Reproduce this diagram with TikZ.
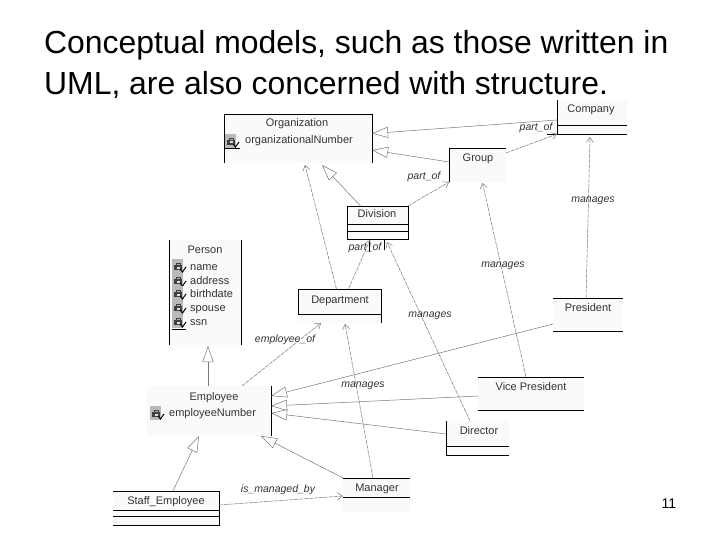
\documentclass[tikz,border=0pt]{standalone}
\usepackage{fontspec}
\setmainfont{Liberation Sans}
\usetikzlibrary{arrows.meta}

\definecolor{paleback}{HTML}{FAFAFA}
\definecolor{linegray}{HTML}{777777}
\definecolor{textgray}{HTML}{333333}

\tikzset{
  clsbox/.style={rectangle,fill=paleback,draw=none,inner sep=0pt,outer sep=0pt},
  clsline/.style={black,line width=0.7pt},
  clsname/.style={inner sep=0pt,text=textgray,text height=9pt,text depth=1pt,font=\fontsize{11}{13}\selectfont},
  attrname/.style={anchor=west,inner sep=0pt,text=textgray,text height=9pt,text depth=1pt,font=\fontsize{11}{13}\selectfont},
  asslabel/.style={inner sep=0pt,text=textgray,text height=9pt,text depth=1pt,font=\fontsize{10.5}{12}\selectfont\itshape},
  titleline/.style={anchor=base west,inner sep=0pt,font=\fontsize{31.9}{36}\selectfont},
  gen/.style={linegray,line width=0.5pt,-{Triangle[open,fill=white,length=16pt,width=11pt]}},
  assoc/.style={linegray,line width=0.5pt,dash pattern=on 4pt off 1pt,-{Straight Barb[length=5pt,width=7pt]}},
  keyicon/.pic={
    \fill[gray!55] (-7,-7) rectangle (4,7);
    \fill[black!75] (-5,-1) rectangle (3,4);
    \draw[black!75,line width=0.9pt] (-3,-1) -- (-3,-3) -- (1,-3) -- (1,-1);
    \fill[gray!25] (-2,0.5) rectangle (1,2.5);
    \draw[black,line width=1pt] (1,3) -- (3.5,6) -- (7,1);
  }
}

\begin{document}
\begin{tikzpicture}[x=1pt,y=-1pt]
\useasboundingbox (0,0) rectangle (720,540);
\fill[white] (0,0) rectangle (720,540);
% title
\node[titleline] (title1) at (44,54) {Conceptual models, such as those written in};
\node[titleline] (title2) at (44,95) {UML, are also concerned with structure.};
\node[inner sep=0pt,font=\fontsize{14}{16}\selectfont] (pageno) at (669,504) {11};
% classes
\node[clsbox,minimum width=148pt,minimum height=49pt] (org) at (298,138.5) {};
\node[clsbox,minimum width=70pt,minimum height=34pt] (company) at (592,117) {};
\node[clsbox,minimum width=57pt,minimum height=34pt] (group) at (477.5,165) {};
\node[clsbox,minimum width=61pt,minimum height=33pt] (div) at (377.5,222.5) {};
\node[clsbox,minimum width=72pt,minimum height=105pt] (person) at (205,292.5) {};
\node[clsbox,minimum width=83pt,minimum height=34pt] (dept) at (339.5,306) {};
\node[clsbox,minimum width=70pt,minimum height=33pt] (pres) at (588,314.5) {};
\node[clsbox,minimum width=106pt,minimum height=33pt] (vp) at (531,393.5) {};
\node[clsbox,minimum width=63pt,minimum height=34pt] (dir) at (477.5,438) {};
\node[clsbox,minimum width=124pt,minimum height=50pt] (emp) at (209,411) {};
\node[clsbox,minimum width=106pt,minimum height=34pt] (staff) at (166,508) {};
\node[clsbox,minimum width=67pt,minimum height=34pt] (mgr) at (376.5,495) {};
% class names
\node[clsname] (orgname) at (297,123) {Organization};
\node[clsname] (companyname) at (591,109) {Company};
\node[clsname] (groupname) at (478,158) {Group};
\node[clsname] (divname) at (377,214) {Division};
\node[clsname] (personname) at (205,249) {Person};
\node[clsname] (deptname) at (340,299) {Department};
\node[clsname] (presname) at (588,307) {President};
\node[clsname] (vpname) at (531,386) {Vice President};
\node[clsname] (dirname) at (479,430) {Director};
\node[clsname] (empname) at (214,396) {Employee};
\node[clsname] (staffname) at (166,500) {Staff\_Employee};
\node[clsname] (mgrname) at (377,487) {Manager};
% attributes
\node[attrname] (orgnumber) at (245,140) {organizationalNumber};
\node[attrname] (empnumber) at (169,412) {employeeNumber};
\foreach \yy/\attr in {266/name,280/address,293/birthdate,307/spouse,321/ssn}{
  \node[attrname] (attr\attr) at (190,\yy) {\attr};
  \pic at (179,\yy) {keyicon};
}
\pic at (232,141) {keyicon};
\pic at (157,413) {keyicon};
% box edges
\draw[clsline] (org.south west) -- (org.north west) -- (org.north east) -- (org.south east);
\draw[clsline] (224,148) -- (240,148);
\draw[clsline] (company.north west) -- (company.south west);
\draw[clsline] (557,125) -- (company.east |- 0,125);
\draw[clsline] (547,134) -- (company.south east);
\draw[clsline] (group.south west) -- (group.north west) -- (group.north east);
\draw[clsline] (div.north west) rectangle (div.south east);
\draw[clsline] (347,224) -- (408,224);
\draw[clsline] (347,231) -- (408,231);
\draw[clsline] (369,239) -- (369,252);
\draw[clsline] (384,239) -- (384,250);
\draw[clsline] (person.north west) -- (person.south west);
\draw[clsline] (person.north east) -- (person.south east);
\draw[clsline] (172,329) -- (186,329);
\draw[clsline] (dept.north east |- dept.south east) -- (dept.north east) -- (dept.north west) -- (298,314) -- (381,314);
\draw[clsline] (pres.north west) -- (pres.north east);
\draw[clsline] (pres.south west) -- (pres.south east);
\draw[clsline] (vp.north west) -- (vp.north east);
\draw[clsline] (vp.south west) -- (vp.south east);
\draw[clsline] (dir.north west) -- (dir.south west) -- (dir.south east);
\draw[clsline] (446,446) -- (509,446);
\draw[clsline] (emp.north east) -- (emp.south east);
\draw[clsline] (staff.north west) -- (staff.north east) -- (staff.south east) -- (staff.south west);
\draw[clsline] (113,510) -- (219,510);
\draw[clsline] (113,516) -- (219,516);
\draw[clsline] (mgr.north west) -- (mgr.north east);
\draw[clsline] (343,497) -- (410,497);
% generalizations
\draw[gen] ([yshift=-3pt]company.west) -- ([yshift=5pt]org.east);
\draw[gen] ([yshift=3pt]group.west) -- ([yshift=-11.5pt]org.east);
\draw[gen] ([xshift=-17pt]div.north) -- ([xshift=24pt,yshift=-2pt]org.south);
\draw[gen] ([xshift=-1pt]emp.north) -- ([xshift=3pt,yshift=-1pt]person.south);
\draw[gen] ([yshift=-9.5pt]pres.west) -- ([yshift=15pt]emp.east);
\draw[gen] ([yshift=-2.5pt]vp.west) -- ([yshift=5pt]emp.east);
\draw[gen] ([yshift=4pt]dir.west) -- ([yshift=-2pt]emp.east);
\draw[gen] (mgr.north west) -- ([xshift=52pt]emp.south);
\draw[gen] ([xshift=7pt]staff.north) -- ([xshift=-10pt]emp.south);
% associations
\draw[assoc] ([yshift=-5pt]group.north east) -- (company.south west);
\draw[assoc] (div.north east) -- (group.south west);
\draw[assoc] ([xshift=-3pt]dept.north) -- ([xshift=7pt,yshift=-2pt]org.south);
\draw[assoc] ([xshift=9pt]dept.north) -- ([xshift=-7.5pt,yshift=-1pt]div.south);
\draw[assoc] ([xshift=-7.5pt]dir.north) -- ([xshift=9.5pt,yshift=-3pt]div.south);
\draw[assoc] ([xshift=-5pt]vp.north) -- ([xshift=5pt,yshift=-1pt]group.south);
\draw[assoc] ([xshift=-2pt]pres.north) -- ([xshift=-2pt,yshift=-3pt]company.south);
\draw[assoc] ([xshift=33pt]emp.north) -- ([xshift=-18.5pt]dept.south);
\draw[assoc] ([xshift=-3.5pt]mgr.north) -- ([xshift=5.5pt,yshift=-1pt]dept.south);
\draw[assoc] ([yshift=3pt]staff.east) -- ([yshift=-1pt]mgr.west);
% association names
\node[asslabel] (lblcompany) at (536,127) {part\_of};
\node[asslabel] (lblgroup) at (424,176) {part\_of};
\node[asslabel] (lbldiv) at (365,247) {part\_of};
\node[asslabel] (lblpres) at (593,199) {manages};
\node[asslabel] (lblvp) at (503,263) {manages};
\node[asslabel] (lbldir) at (430,313) {manages};
\node[asslabel] (lblmgr) at (363,383) {manages};
\node[asslabel] (lblemp) at (285,338) {employee\_of};
\node[asslabel] (lblstaff) at (278,488) {is\_managed\_by};
\end{tikzpicture}
\end{document}
